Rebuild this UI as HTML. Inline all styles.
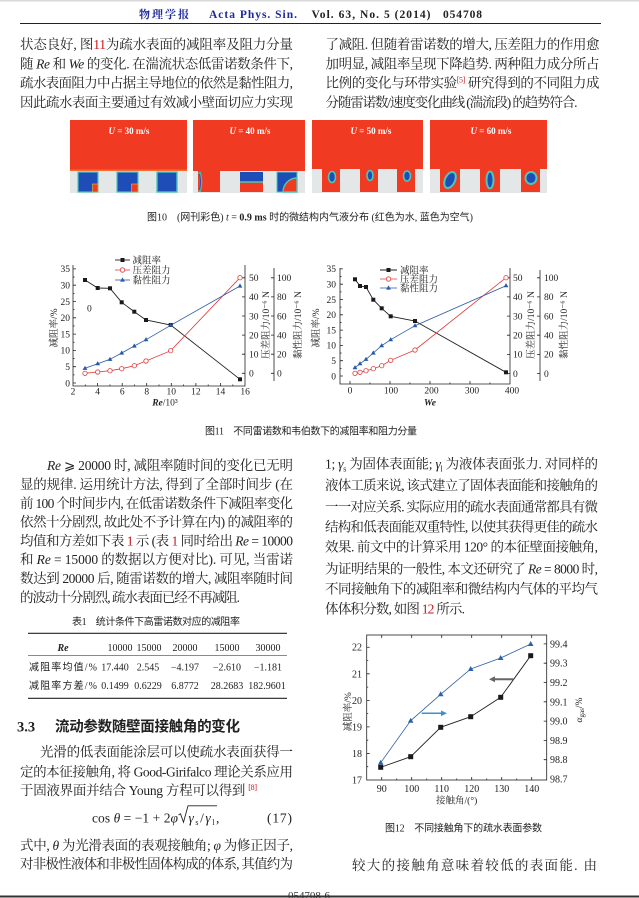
<!DOCTYPE html>
<html><head><meta charset="utf-8">
<style>
html,body{margin:0;padding:0;background:#fff;}
svg{display:block;}
.b{font-family:"Liberation Serif","Noto Serif CJK SC",serif;font-size:13.5px;fill:#222;}
.i{font-style:italic;}
.r{fill:#c8161d;}
.cap{font-family:"Liberation Serif","Noto Sans CJK SC",sans-serif;font-size:10px;fill:#222;}
.tk{font-family:"Liberation Serif",serif;font-size:9.5px;fill:#222;}
.lg{font-family:"Liberation Serif","Noto Serif CJK SC",serif;font-size:9.5px;fill:#222;}
.ax{stroke:#222;stroke-width:0.8;fill:none;}
.pt{fill:#fff;font-family:"Liberation Serif",serif;font-size:9px;font-weight:bold;}
</style></head><body>
<svg width="639" height="898" viewBox="0 0 639 898" xmlns="http://www.w3.org/2000/svg">
<defs>
<rect id="sq" x="-2" y="-2" width="4" height="4" fill="#1a1a1a"/>
<circle id="ci" r="2.2" fill="#fff" stroke="#e03a3a" stroke-width="0.8"/>
<path id="tr" d="M0,-2.6 L2.4,1.6 L-2.4,1.6Z" fill="#2858a8"/>
<rect id="sq2" x="-2.5" y="-2.5" width="5" height="5" fill="#1a1a1a"/>
<path id="tr2" d="M0,-3 L2.8,2 L-2.8,2Z" fill="#3060a8"/>
</defs>
<rect x="0" y="0" width="639" height="1.5" fill="#d8d8d8"/>

<!-- Header -->
<text x="139" y="18" textLength="50" lengthAdjust="spacing" font-family="Liberation Serif, Noto Serif CJK SC, serif" font-size="11" font-weight="bold" fill="#1c2a9c">物 理 学 报</text>
<text x="209" y="18" textLength="88" lengthAdjust="spacing" font-family="Liberation Serif, serif" font-size="11.5" font-weight="bold" fill="#1c2a9c">Acta Phys. Sin.</text>
<text x="311.5" y="18" textLength="119" lengthAdjust="spacing" font-family="Liberation Serif, serif" font-size="11.5" font-weight="bold" fill="#222">Vol. 63, No. 5 (2014)</text>
<text x="443" y="18" textLength="39" lengthAdjust="spacing" font-family="Liberation Serif, serif" font-size="11.5" font-weight="bold" fill="#222">054708</text>
<line x1="20" y1="23.5" x2="601" y2="23.5" stroke="#222" stroke-width="1"/>

<!-- Top text -->
<text class="b" x="20" y="49" textLength="273" lengthAdjust="spacing">状态良好, 图<tspan class="r">11</tspan>为疏水表面的减阻率及阻力分量</text>
<text class="b" x="20" y="68.3" textLength="273" lengthAdjust="spacing">随 <tspan class="i">Re</tspan> 和 <tspan class="i">We</tspan> 的变化. 在湍流状态低雷诺数条件下,</text>
<text class="b" x="20" y="87.6" textLength="273" lengthAdjust="spacing">疏水表面阻力中占据主导地位的依然是黏性阻力,</text>
<text class="b" x="20" y="107" textLength="273" lengthAdjust="spacing">因此疏水表面主要通过有效减小壁面切应力实现</text>
<text class="b" x="325.5" y="49" textLength="274" lengthAdjust="spacing">了减阻. 但随着雷诺数的增大, 压差阻力的作用愈</text>
<text class="b" x="325.5" y="68.3" textLength="274" lengthAdjust="spacing">加明显, 减阻率呈现下降趋势. 两种阻力成分所占</text>
<text class="b" x="325.5" y="87.6" textLength="274" lengthAdjust="spacing">比例的变化与环带实验<tspan font-size="8" dy="-5" class="r">[5]</tspan><tspan dy="5"> 研究得到的不同阻力成</tspan></text>
<text class="b" x="325.5" y="107" textLength="252" lengthAdjust="spacing">分随雷诺数/速度变化曲线 (湍流段) 的趋势符合.</text>

<!-- Figure 10 -->
<g>
<rect x="70" y="120" width="117" height="51" fill="#f03a22"/>
<rect x="70" y="171" width="117" height="22" fill="#e4e7e7"/>
<rect x="70" y="169.5" width="117" height="1.5" fill="#f2a040" opacity=".5"/>
<rect x="78" y="172" width="20" height="20" fill="#1e4db7" stroke="#4cc8b8" stroke-width="1.2"/>
<rect x="92.5" y="184" width="5.5" height="8" fill="#f03a22" stroke="#e0c040" stroke-width="0.6"/>
<rect x="117" y="172" width="21" height="20" fill="#1e4db7" stroke="#4cc8b8" stroke-width="1.2"/>
<rect x="131.5" y="184" width="6.5" height="8" fill="#f03a22" stroke="#e0c040" stroke-width="0.6"/>
<rect x="157" y="172" width="20" height="20" fill="#1e4db7" stroke="#4cc8b8" stroke-width="1.4"/>
<text class="pt" x="129" y="134" text-anchor="middle"><tspan class="i">U</tspan> = 30 m/s</text>

<rect x="193" y="120" width="112" height="51" fill="#f03a22"/>
<rect x="193" y="171" width="112" height="22" fill="#e4e7e7"/>
<rect x="198" y="170" width="22" height="22" fill="#f03a22"/>
<path d="M199.5,172 q3,10 0,20" stroke="#40c0b0" stroke-width="2.5" fill="none"/>
<path d="M199.5,174 q2,8 0,16" stroke="#1e4db7" stroke-width="1" fill="none"/>
<rect x="240" y="172" width="23" height="10" fill="#1e4db7"/>
<rect x="240" y="182" width="23" height="10" fill="#f03a22"/>
<line x1="240" y1="182" x2="263" y2="182" stroke="#4cc8b8" stroke-width="1.6"/>
<rect x="277" y="172" width="20" height="20" fill="#1e4db7" stroke="#4cc8b8" stroke-width="1"/>
<path d="M297,178 A14,14 0 0 0 283,192 L297,192Z" fill="#f03a22" stroke="#4cc8b8" stroke-width="1.4"/>
<text class="pt" x="250" y="134" text-anchor="middle"><tspan class="i">U</tspan> = 40 m/s</text>

<rect x="312" y="120" width="111" height="49" fill="#f03a22"/>
<rect x="312" y="169" width="111" height="24" fill="#e4e7e7"/>
<rect x="322" y="168" width="18" height="24" fill="#f03a22"/>
<rect x="360" y="168" width="18" height="24" fill="#f03a22"/>
<rect x="397" y="168" width="18" height="24" fill="#f03a22"/>
<ellipse cx="332" cy="177" rx="3.5" ry="5.5" fill="#1e4db7" stroke="#4cc8b8" stroke-width="1.6"/>
<ellipse cx="370" cy="175.5" rx="3" ry="5" fill="#1e4db7" stroke="#4cc8b8" stroke-width="1.6"/>
<ellipse cx="407" cy="176" rx="3.5" ry="5" fill="#1e4db7" stroke="#4cc8b8" stroke-width="1.6"/>
<text class="pt" x="371" y="134" text-anchor="middle"><tspan class="i">U</tspan> = 50 m/s</text>

<rect x="430" y="120" width="117" height="49" fill="#f03a22"/>
<rect x="430" y="169" width="117" height="24" fill="#e4e7e7"/>
<rect x="440" y="168" width="20" height="24" fill="#f03a22"/>
<rect x="480" y="168" width="20" height="24" fill="#f03a22"/>
<rect x="521" y="168" width="19" height="24" fill="#f03a22"/>
<ellipse cx="450" cy="180" rx="5" ry="8.5" transform="rotate(25 450 180)" fill="#1e4db7" stroke="#4cc8b8" stroke-width="2"/>
<ellipse cx="490" cy="180" rx="3.5" ry="8.5" fill="#1e4db7" stroke="#4cc8b8" stroke-width="2"/>
<ellipse cx="531" cy="178" rx="5.5" ry="6" fill="#1e4db7" stroke="#4cc8b8" stroke-width="2"/>
<text class="pt" x="491" y="134" text-anchor="middle"><tspan class="i">U</tspan> = 60 m/s</text>
</g>
<text class="cap" x="147" y="220.5" textLength="326" lengthAdjust="spacing">图10　(网刊彩色) <tspan class="i" font-family="Liberation Serif">t</tspan> = <tspan font-weight="bold">0.9 ms</tspan> 时的微结构内气液分布 (红色为水, 蓝色为空气)</text>

<!-- Figure 11 left -->
<g>
<path class="ax" d="M73,265V386H245V265 M274,268V381"/>
<path class="ax" d="M73,383h3M73,366.7h3M73,350.4h3M73,334.1h3M73,317.8h3M73,301.5h3M73,285.2h3M73,268.9h3
M73,374.85h1.5M73,358.55h1.5M73,342.25h1.5M73,325.95h1.5M73,309.65h1.5M73,293.35h1.5M73,277.05h1.5
M97.6,386v-3M122.2,386v-3M146.7,386v-3M171.3,386v-3M195.9,386v-3M220.5,386v-3
M85.3,386v-1.5M109.9,386v-1.5M134.5,386v-1.5M159,386v-1.5M183.6,386v-1.5M208.2,386v-1.5M232.8,386v-1.5
M245,373.3h-3M245,354.2h-3M245,335.1h-3M245,316h-3M245,296.9h-3M245,277.8h-3
M274,373.3h-3M274,354.2h-3M274,335.1h-3M274,316h-3M274,296.9h-3M274,277.8h-3"/>
<g class="tk" text-anchor="end">
<text x="70" y="386.3">0</text><text x="70" y="370">5</text><text x="70" y="353.7">10</text><text x="70" y="337.4">15</text><text x="70" y="321.1">20</text><text x="70" y="304.8">25</text><text x="70" y="288.5">30</text><text x="70" y="272.2">35</text>
</g>
<g class="tk" text-anchor="middle">
<text x="73" y="394.5">2</text><text x="97.6" y="394.5">4</text><text x="122.2" y="394.5">6</text><text x="146.7" y="394.5">8</text><text x="171.3" y="394.5">10</text><text x="195.9" y="394.5">12</text><text x="220.5" y="394.5">14</text><text x="245.1" y="394.5">16</text>
</g>
<g class="tk">
<text x="249" y="376.6">0</text><text x="249" y="357.5">10</text><text x="249" y="338.4">20</text><text x="249" y="319.3">30</text><text x="249" y="300.2">40</text><text x="249" y="281.1">50</text>
<text x="277" y="376.6">0</text><text x="277" y="357.5">20</text><text x="277" y="338.4">40</text><text x="277" y="319.3">60</text><text x="277" y="300.2">80</text><text x="277" y="281.1">100</text>
</g>
<text class="lg" transform="translate(57,328) rotate(-90)" text-anchor="middle" font-size="10">减阻率/%</text>
<text class="lg" transform="translate(269,325) rotate(-90)" text-anchor="middle" font-size="10">压差阻力/10⁻⁶ N</text>
<text class="lg" transform="translate(301,325) rotate(-90)" text-anchor="middle" font-size="10">黏性阻力/10⁻⁶ N</text>
<text class="tk" x="165" y="405.5" text-anchor="middle" font-size="10"><tspan class="i" font-weight="bold">Re</tspan>/10³</text>
<text class="tk" x="87" y="311.5" font-size="10">0</text>
<polyline fill="none" stroke="#222" stroke-width="0.9" points="85,280 97.7,288 110,288.3 121.7,302.3 134.3,311.7 146,320 170.7,325 240,379.3"/>
<polyline fill="none" stroke="#e03a3a" stroke-width="0.8" points="85,373.3 97.7,372 110,370.7 121.7,368.7 134.3,365.7 146,361 170.7,350.7 240,277.7"/>
<polyline fill="none" stroke="#2858a8" stroke-width="0.8" points="85,368.3 97.7,363.7 110,359.3 121.7,353 134.3,346 146,339.7 170.7,325.3 240,286"/>
<use href="#sq" x="85" y="280"/><use href="#sq" x="97.7" y="288"/><use href="#sq" x="110" y="288.3"/><use href="#sq" x="121.7" y="302.3"/><use href="#sq" x="134.3" y="311.7"/><use href="#sq" x="146" y="320"/><use href="#sq" x="170.7" y="325"/><use href="#sq" x="240" y="379.3"/>
<use href="#tr" x="85" y="368.3"/><use href="#tr" x="97.7" y="363.7"/><use href="#tr" x="110" y="359.3"/><use href="#tr" x="121.7" y="353"/><use href="#tr" x="134.3" y="346"/><use href="#tr" x="146" y="339.7"/><use href="#tr" x="170.7" y="325.3"/><use href="#tr" x="240" y="286"/>
<use href="#ci" x="85" y="373.3"/><use href="#ci" x="97.7" y="372"/><use href="#ci" x="110" y="370.7"/><use href="#ci" x="121.7" y="368.7"/><use href="#ci" x="134.3" y="365.7"/><use href="#ci" x="146" y="361"/><use href="#ci" x="170.7" y="350.7"/><use href="#ci" x="240" y="277.7"/>
<line x1="115" y1="260" x2="130" y2="260" stroke="#222" stroke-width="0.9"/><use href="#sq" x="122.5" y="260"/>
<line x1="115" y1="270" x2="130" y2="270" stroke="#e03a3a" stroke-width="0.8"/><use href="#ci" x="122.5" y="270"/>
<line x1="115" y1="280" x2="130" y2="280" stroke="#2858a8" stroke-width="0.8"/><use href="#tr" x="122.5" y="280"/>
<text class="lg" x="132.5" y="263.5">减阻率</text>
<text class="lg" x="132.5" y="273.5">压差阻力</text>
<text class="lg" x="132.5" y="283.5">黏性阻力</text>
</g>

<!-- Figure 11 right -->
<g>
<path class="ax" d="M340,268V384H510V268 M540,270V381"/>
<path class="ax" d="M340,376h3M340,360.7h3M340,345.4h3M340,330.1h3M340,314.8h3M340,299.5h3M340,284.2h3M340,268.9h3
M340,368.35h1.5M340,353.05h1.5M340,337.75h1.5M340,322.45h1.5M340,307.15h1.5M340,291.85h1.5M340,276.55h1.5
M350,384v-3M390,384v-3M430,384v-3M470,384v-3
M370,384v-1.5M410,384v-1.5M450,384v-1.5M490,384v-1.5
M510,373.5h-3M510,354.4h-3M510,335.2h-3M510,316.1h-3M510,296.9h-3M510,277.8h-3
M540,373.5h-3M540,354.4h-3M540,335.2h-3M540,316.1h-3M540,296.9h-3M540,277.8h-3"/>
<g class="tk" text-anchor="end">
<text x="336" y="379.3">0</text><text x="336" y="364">5</text><text x="336" y="348.7">10</text><text x="336" y="333.4">15</text><text x="336" y="318.1">20</text><text x="336" y="302.8">25</text><text x="336" y="287.5">30</text><text x="336" y="272.2">35</text>
</g>
<g class="tk" text-anchor="middle">
<text x="350" y="393.5">0</text><text x="391" y="393.5">100</text><text x="431.5" y="393.5">200</text><text x="472" y="393.5">300</text><text x="512" y="393.5">400</text>
</g>
<g class="tk">
<text x="513" y="376.8">0</text><text x="513" y="357.7">10</text><text x="513" y="338.5">20</text><text x="513" y="319.4">30</text><text x="513" y="300.2">40</text><text x="513" y="281.1">50</text>
<text x="544" y="376.8">0</text><text x="544" y="357.7">20</text><text x="544" y="338.5">40</text><text x="544" y="319.4">60</text><text x="544" y="300.2">80</text><text x="544" y="281.1">100</text>
</g>
<text class="lg" transform="translate(319,328) rotate(-90)" text-anchor="middle" font-size="10">减阻率/%</text>
<text class="lg" transform="translate(534,325) rotate(-90)" text-anchor="middle" font-size="10">压差阻力/10⁻⁶ N</text>
<text class="lg" transform="translate(567,325) rotate(-90)" text-anchor="middle" font-size="10">黏性阻力/10⁻⁶ N</text>
<text class="tk" x="430" y="405.5" text-anchor="middle" font-size="10.5" font-weight="bold" font-style="italic">We</text>
<polyline fill="none" stroke="#222" stroke-width="0.9" points="355,279.3 360,286 366,287 373.3,299.7 381.7,308.3 390.7,316.3 415,321 506,372.3"/>
<polyline fill="none" stroke="#e03a3a" stroke-width="0.8" points="355,373.3 360,372.3 366,370.7 373.3,368.7 381.7,365.7 390.7,360.3 415,350 506,277.7"/>
<polyline fill="none" stroke="#2858a8" stroke-width="0.8" points="355,367.7 360,363.7 366,359.3 373.3,353 381.7,345.7 390.7,339.7 415,325.7 506,285.7"/>
<use href="#sq" x="355" y="279.3"/><use href="#sq" x="360" y="286"/><use href="#sq" x="366" y="287"/><use href="#sq" x="373.3" y="299.7"/><use href="#sq" x="381.7" y="308.3"/><use href="#sq" x="390.7" y="316.3"/><use href="#sq" x="415" y="321"/><use href="#sq" x="506" y="372.3"/>
<use href="#tr" x="355" y="367.7"/><use href="#tr" x="360" y="363.7"/><use href="#tr" x="366" y="359.3"/><use href="#tr" x="373.3" y="353"/><use href="#tr" x="381.7" y="345.7"/><use href="#tr" x="390.7" y="339.7"/><use href="#tr" x="415" y="325.7"/><use href="#tr" x="506" y="285.7"/>
<use href="#ci" x="355" y="373.3"/><use href="#ci" x="360" y="372.3"/><use href="#ci" x="366" y="370.7"/><use href="#ci" x="373.3" y="368.7"/><use href="#ci" x="381.7" y="365.7"/><use href="#ci" x="390.7" y="360.3"/><use href="#ci" x="415" y="350"/><use href="#ci" x="506" y="277.7"/>
<line x1="380" y1="270" x2="397" y2="270" stroke="#222" stroke-width="0.9"/><use href="#sq" x="388.5" y="270"/>
<line x1="380" y1="279" x2="397" y2="279" stroke="#e03a3a" stroke-width="0.8"/><use href="#ci" x="388.5" y="279"/>
<line x1="380" y1="288" x2="397" y2="288" stroke="#2858a8" stroke-width="0.8"/><use href="#tr" x="388.5" y="288"/>
<text class="lg" x="400" y="273.5">减阻率</text>
<text class="lg" x="400" y="282.5">压差阻力</text>
<text class="lg" x="400" y="291.5">黏性阻力</text>
</g>
<text class="cap" x="205" y="434.5" textLength="212" lengthAdjust="spacing">图11　不同雷诺数和韦伯数下的减阻率和阻力分量</text>

<!-- Lower left text -->
<text class="b" x="47" y="470" textLength="246" lengthAdjust="spacing"><tspan class="i">Re</tspan> ⩾ 20000 时, 减阻率随时间的变化已无明</text>
<text class="b" x="20" y="489" textLength="273" lengthAdjust="spacing">显的规律. 运用统计方法, 得到了全部时间步 (在</text>
<text class="b" x="20" y="508" textLength="273" lengthAdjust="spacing">前 100 个时间步内, 在低雷诺数条件下减阻率变化</text>
<text class="b" x="20" y="526.7" textLength="273" lengthAdjust="spacing">依然十分剧烈, 故此处不予计算在内) 的减阻率的</text>
<text class="b" x="20" y="545.7" textLength="273" lengthAdjust="spacing">均值和方差如下表 <tspan class="r">1</tspan> 示 (表 <tspan class="r">1</tspan> 同时给出 <tspan class="i">Re</tspan> = 10000</text>
<text class="b" x="20" y="564" textLength="273" lengthAdjust="spacing">和 <tspan class="i">Re</tspan> = 15000 的数据以方便对比). 可见, 当雷诺</text>
<text class="b" x="20" y="583" textLength="273" lengthAdjust="spacing">数达到 20000 后, 随雷诺数的增大, 减阻率随时间</text>
<text class="b" x="20" y="602" textLength="220" lengthAdjust="spacing">的波动十分剧烈, 疏水表面已经不再减阻.</text>

<!-- Lower right text -->
<text class="b" x="325" y="468.3" textLength="273" lengthAdjust="spacing">1; <tspan class="i">γ</tspan><tspan font-size="8" dy="3">s</tspan><tspan dy="-3"> 为固体表面能; </tspan><tspan class="i">γ</tspan><tspan font-size="8" dy="3">l</tspan><tspan dy="-3"> 为液体表面张力. 对同样的</tspan></text>
<text class="b" x="325" y="490" textLength="273" lengthAdjust="spacing">液体工质来说, 该式建立了固体表面能和接触角的</text>
<text class="b" x="325" y="511.7" textLength="273" lengthAdjust="spacing">一一对应关系. 实际应用的疏水表面通常都具有微</text>
<text class="b" x="325" y="531.7" textLength="273" lengthAdjust="spacing">结构和低表面能双重特性, 以使其获得更佳的疏水</text>
<text class="b" x="325" y="551.7" textLength="273" lengthAdjust="spacing">效果. 前文中的计算采用 120° 的本征壁面接触角,</text>
<text class="b" x="325" y="573.3" textLength="273" lengthAdjust="spacing">为证明结果的一般性, 本文还研究了 <tspan class="i">Re</tspan> = 8000 时,</text>
<text class="b" x="325" y="593.3" textLength="273" lengthAdjust="spacing">不同接触角下的减阻率和微结构内气体的平均气</text>
<text class="b" x="325" y="613.3" textLength="140" lengthAdjust="spacing">体体积分数, 如图 <tspan class="r">12</tspan> 所示.</text>

<!-- Table -->
<text class="cap" x="72" y="625" textLength="168" lengthAdjust="spacing" font-size="9.5">表1　统计条件下高雷诺数对应的减阻率</text>
<line x1="28" y1="633.3" x2="287" y2="633.3" stroke="#222" stroke-width="1.2"/>
<line x1="28" y1="655.7" x2="287" y2="655.7" stroke="#444" stroke-width="0.7"/>
<line x1="28" y1="698.3" x2="287" y2="698.3" stroke="#222" stroke-width="1.2"/>
<g font-family="Liberation Serif, serif" font-size="10" fill="#222" text-anchor="middle">
<text x="63" y="651" font-style="italic" font-weight="bold">Re</text>
<text x="120" y="651">10000</text><text x="149" y="651">15000</text><text x="185" y="651">20000</text><text x="227" y="651">15000</text><text x="268" y="651">30000</text>
<text x="115" y="670.5">17.440</text><text x="148" y="670.5">2.545</text><text x="185" y="670.5">−4.197</text><text x="227" y="670.5">−2.610</text><text x="268" y="670.5">−1.181</text>
<text x="115" y="689">0.1499</text><text x="148" y="689">0.6229</text><text x="185" y="689">6.8772</text><text x="227" y="689">28.2683</text><text x="267" y="689">182.9601</text>
</g>
<text class="cap" x="29" y="670.5" textLength="68" lengthAdjust="spacing" font-size="9.5">减阻率均值/%</text>
<text class="cap" x="29" y="689" textLength="68" lengthAdjust="spacing" font-size="9.5">减阻率方差/%</text>

<!-- Section 3.3 -->
<text x="17" y="731.5" font-family="Liberation Serif, serif" font-size="14.5" font-weight="bold" fill="#222">3.3</text>
<text x="55" y="731.5" textLength="185" lengthAdjust="spacing" font-family="Liberation Sans, Noto Sans CJK SC, sans-serif" font-size="14.5" font-weight="bold" fill="#222">流动参数随壁面接触角的变化</text>
<text class="b" x="40" y="756.7" textLength="253" lengthAdjust="spacing">光滑的低表面能涂层可以使疏水表面获得一</text>
<text class="b" x="20" y="776.7" textLength="273" lengthAdjust="spacing">定的本征接触角, 将 Good-Girifalco 理论关系应用</text>
<text class="b" x="20" y="795" textLength="237" lengthAdjust="spacing">于固液界面并结合 Young 方程可以得到 <tspan font-size="8" dy="-5" class="r">[8]</tspan></text>
<text class="b" x="92" y="822.5" textLength="86" lengthAdjust="spacing">cos <tspan class="i">θ</tspan> = −1 + 2<tspan class="i">φ</tspan></text>
<path d="M178.5,815 l2,-1.2 l3,8.5 l4.5,-16.5 h29" stroke="#222" stroke-width="0.9" fill="none"/>
<text class="b" x="188.5" y="822.5" textLength="26" lengthAdjust="spacing"><tspan class="i">γ</tspan><tspan font-size="8" dy="2.5">s</tspan><tspan dy="-2.5">/</tspan><tspan class="i">γ</tspan><tspan font-size="8" dy="2.5">l</tspan></text>
<text class="b" x="216" y="822.5">,</text>
<text class="b" x="267" y="822.5" textLength="25" lengthAdjust="spacing">(17)</text>
<text class="b" x="20" y="850" textLength="273" lengthAdjust="spacing">式中, <tspan class="i">θ</tspan> 为光滑表面的表观接触角; <tspan class="i">φ</tspan> 为修正因子,</text>
<text class="b" x="20" y="868.5" textLength="273" lengthAdjust="spacing">对非极性液体和非极性固体构成的体系, 其值约为</text>
<text class="b" x="352" y="870" textLength="245" lengthAdjust="spacing">较大的接触角意味着较低的表面能. 由</text>

<!-- Figure 12 -->
<g>
<rect x="366.7" y="635" width="180" height="145" class="ax"/>
<path class="ax" d="M366.7,753.45h3M366.7,726.9h3M366.7,700.35h3M366.7,673.8h3M366.7,647.25h3
M366.7,766.7h1.5M366.7,740.2h1.5M366.7,713.6h1.5M366.7,687.1h1.5M366.7,660.5h1.5
M546.7,759.7h-3M546.7,740.4h-3M546.7,721.1h-3M546.7,701.8h-3M546.7,682.5h-3M546.7,663.2h-3M546.7,643.9h-3
M381.7,780v-3M411.7,780v-3M441.7,780v-3M471.7,780v-3M501.7,780v-3M531.7,780v-3
M396.7,780v-1.5M426.7,780v-1.5M456.7,780v-1.5M486.7,780v-1.5M516.7,780v-1.5
M381.7,635v3M411.7,635v3M441.7,635v3M471.7,635v3M501.7,635v3M531.7,635v3"/>
<g font-family="Liberation Serif, serif" font-size="10" fill="#222" text-anchor="end">
<text x="362" y="783.5">17</text><text x="362" y="757">18</text><text x="362" y="730.4">19</text><text x="362" y="703.8">20</text><text x="362" y="677.3">21</text><text x="362" y="650.7">22</text>
</g>
<g font-family="Liberation Serif, serif" font-size="10" fill="#222">
<text x="550" y="782.5">98.7</text><text x="550" y="763.2">98.8</text><text x="550" y="743.9">98.9</text><text x="550" y="724.6">99.0</text><text x="550" y="705.3">99.1</text><text x="550" y="686">99.2</text><text x="550" y="666.7">99.3</text><text x="550" y="647.4">99.4</text>
</g>
<g font-family="Liberation Serif, serif" font-size="10" fill="#222" text-anchor="middle">
<text x="381.7" y="791.8">90</text><text x="411.7" y="791.8">100</text><text x="441.7" y="791.8">110</text><text x="471.7" y="791.8">120</text><text x="501.7" y="791.8">130</text><text x="531.7" y="791.8">140</text>
</g>
<text class="lg" x="456.7" y="803.5" text-anchor="middle" font-size="10">接触角/(°)</text>
<text class="lg" transform="translate(351,711.7) rotate(-90)" text-anchor="middle" font-size="10.5">减阻率/%</text>
<text class="lg" transform="translate(582,710) rotate(-90)" text-anchor="middle" font-size="10.5"><tspan font-style="italic">α</tspan><tspan font-size="7" dy="2">gas</tspan><tspan dy="-2">/%</tspan></text>
<polyline fill="none" stroke="#3060a8" stroke-width="0.8" points="380.7,762.7 410.7,720.7 440.7,694.3 470.7,669 500.7,658 530.7,644"/>
<polyline fill="none" stroke="#222" stroke-width="0.9" points="380.7,767.3 410.7,756.7 440.7,727.3 470.7,716.7 500.7,697.3 530.7,655.7"/>
<use href="#sq2" x="380.7" y="767.3"/><use href="#sq2" x="410.7" y="756.7"/><use href="#sq2" x="440.7" y="727.3"/><use href="#sq2" x="470.7" y="716.7"/><use href="#sq2" x="500.7" y="697.3"/><use href="#sq2" x="530.7" y="655.7"/>
<use href="#tr2" x="380.7" y="762.7"/><use href="#tr2" x="410.7" y="720.7"/><use href="#tr2" x="440.7" y="694.3"/><use href="#tr2" x="470.7" y="669"/><use href="#tr2" x="500.7" y="658"/><use href="#tr2" x="530.7" y="644"/>
<line x1="421.7" y1="713.3" x2="442" y2="713.3" stroke="#3d8fd0" stroke-width="1.5"/>
<path d="M447,713.3 L441,710.5 L441,716.1Z" fill="#3d8fd0"/>
<line x1="513.3" y1="679.3" x2="494" y2="679.3" stroke="#666" stroke-width="2"/>
<path d="M489,679.3 L495,676.3 L495,682.3Z" fill="#666"/>
</g>
<text class="cap" x="385" y="831.5" textLength="157" lengthAdjust="spacing">图12　不同接触角下的疏水表面参数</text>

<!-- Footer -->
<text x="288" y="899" textLength="42" lengthAdjust="spacing" font-family="Liberation Serif, serif" font-size="11" fill="#333">054708-6</text>
<line x1="0" y1="896.5" x2="639" y2="896.5" stroke="#333" stroke-width="2"/>
</svg>
</body></html>
